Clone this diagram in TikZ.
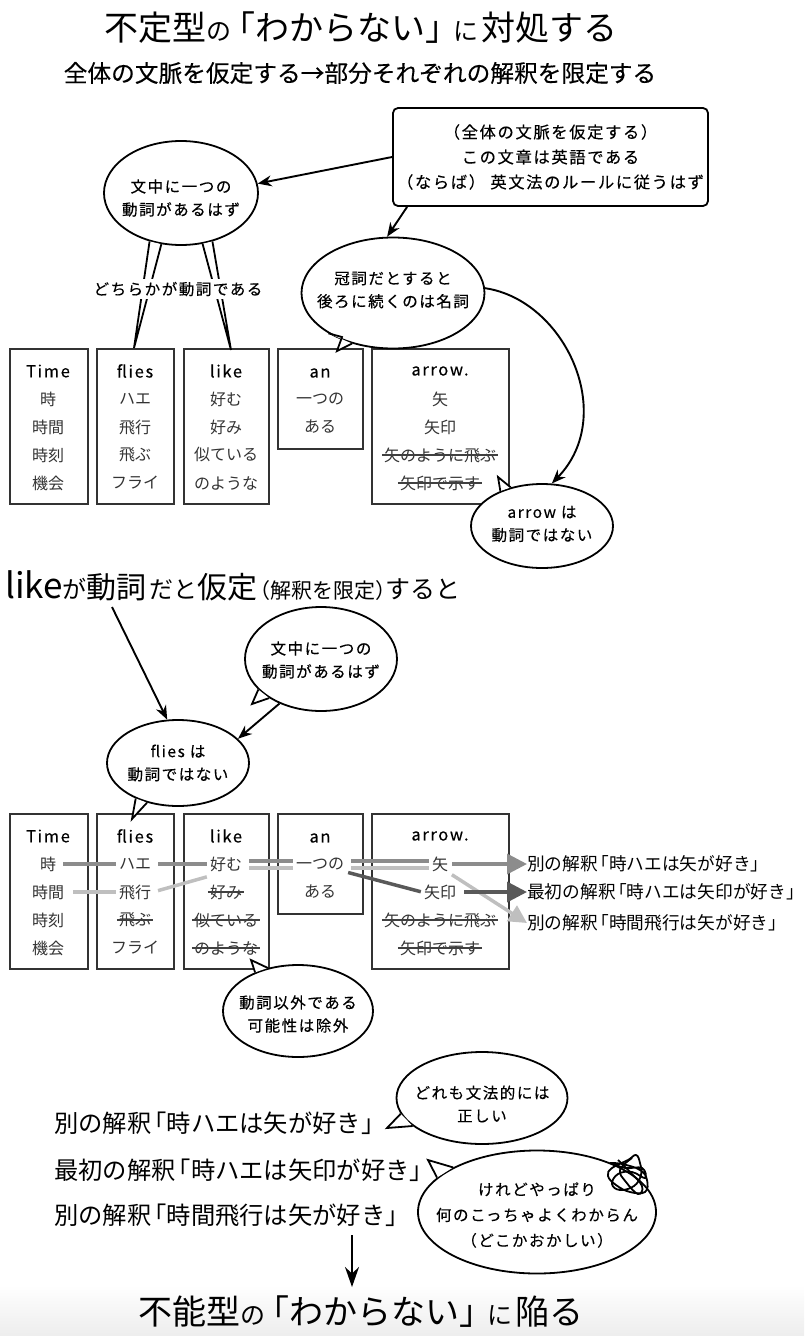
\documentclass[tikz,border=0pt]{standalone}
\usepackage{fontspec}
\setmainfont{Noto Sans CJK JP}
\newfontfamily\cjkb[LetterSpace=10,FakeBold=0.3]{Noto Sans CJK JP}
\newfontfamily\cjkm[FakeBold=0.3]{Noto Sans CJK JP}
\usetikzlibrary{positioning}
\usetikzlibrary{arrows.meta}
\usetikzlibrary{shapes.geometric}
\newcommand{\sz}[1]{\fontsize{#1}{#1}\selectfont}
% brackets without their blank half
\newcommand{\lb}{\kern-.37em「}
\newcommand{\rb}{」\kern-.37em}
% tail of a speech bubble: node, start angle, tip path, end angle
\newcommand{\bubtail}[4]{
	\fill[white] (#1.#2) -- #3 -- (#1.#4) -- cycle;
	\draw[tail line] (#1.#2) -- #3 -- (#1.#4);
}
% the five word boxes, used twice
\newcommand{\wordtable}[2]{
	\begin{scope}[shift={(0,#2)},name prefix=#1]
	\node[word box,minimum width=78pt,minimum height=155pt] at (49,77.5) {};
	\node[word box,minimum width=77pt,minimum height=155pt] at (135.5,77.5) {};
	\node[word box,minimum width=85pt,minimum height=155pt] at (226.5,77.5) {};
	\node[word box,minimum width=85pt,minimum height=100pt] at (320.5,50) {};
	\node[word box,minimum width=137pt,minimum height=155pt] at (440.5,77.5) {};
	\node[head] (t0) at (48,22) {Time};
	\node[word] (t1) [below of=t0] {時};
	\node[word] (t2) [below of=t1] {時間};
	\node[word] (t3) [below of=t2] {時刻};
	\node[word] (t4) [below of=t3] {機会};
	\node[head] (f0) at (135,22) {flies};
	\node[word] (f1) [below of=f0] {ハエ};
	\node[word] (f2) [below of=f1] {飛行};
	\node[word] (f3) [below of=f2] {飛ぶ};
	\node[word] (f4) [below of=f3] {フライ};
	\node[head] (l0) at (226,22) {like};
	\node[word] (l1) [below of=l0] {好む};
	\node[word] (l2) [below of=l1] {好み};
	\node[word] (l3) [below of=l2] {似ている};
	\node[word] (l4) [below of=l3] {のような};
	\node[head] (n0) at (320,24) {an};
	\node[word] (n1) at (320,50) {一つの};
	\node[word] (n2) [below of=n1] {ある};
	\node[head] (r0) at (440,22) {arrow.};
	\node[word] (r1) [below of=r0] {矢};
	\node[word] (r2) [below of=r1] {矢印};
	\node[word] (r3) [below of=r2] {矢のように飛ぶ};
	\node[word] (r4) [below of=r3] {矢印で示す};
	\draw[strike] (r3.west) -- (r3.east);
	\draw[strike] (r4.west) -- (r4.east);
	\end{scope}
}
\begin{document}
\begin{tikzpicture}[x=1pt,y=-1pt,node distance=28pt,
	word box/.style={rectangle,draw=black!80,line width=1.3pt,inner sep=0pt},
	word/.style={font=\sz{16},text=black!80,inner sep=2pt},
	head/.style={font=\sz{16.5}\cjkb,inner sep=2pt},
	strike/.style={black!75,line width=1.3pt},
	bubble/.style={ellipse,draw,fill=white,line width=1.8pt,inner sep=0pt},
	speech/.style={font=\fontsize{15.5}{23}\selectfont\cjkb,align=center,inner sep=0pt},
	tail line/.style={line width=1.8pt,line join=miter},
	big arrow/.style={line width=1.9pt,-{Stealth[length=14pt,width=11pt]}},
	path one/.style={line width=3.5pt,black!45,shorten <=5pt,shorten >=1pt},
	path two/.style={line width=3.5pt,black!25,shorten <=5pt,shorten >=1pt},
	path three/.style={line width=3.5pt,black!65,shorten <=2pt,shorten >=1pt},
	reading/.style={font=\sz{17.7},anchor=west,inner sep=0pt},
	sentence/.style={font=\sz{24.3},anchor=west,inner sep=0pt}]
	\useasboundingbox (0,0) rectangle (804,1336);
	\shade[top color=white,bottom color=black!7] (0,1285) rectangle (804,1336);

	% titles
	\node (title) at (361,28) {\sz{34}不定型{\sz{25}の}\kern2pt\lb わからない\rb\kern7pt{\sz{25}に}\kern3pt対処する};
	\node[font=\sz{23.7}\cjkm] (subtitle) at (360,73) {全体の文脈を仮定する→部分それぞれの解釈を限定する};

	% upper word boxes
	\wordtable{a-}{349}

	% upper bubbles
	\node[rectangle,rounded corners=5pt,draw,line width=1.8pt,minimum width=315pt,minimum height=98pt,
		font=\fontsize{16.3}{25}\selectfont\cjkb,align=center,inner sep=0pt] (context) at (550.5,157)
		{（全体の文脈を仮定する）\\この文章は英語である\\（ならば） 英文法のルールに従うはず};
	\node[bubble,minimum width=154pt,minimum height=104pt] (verbone) at (181,193) {};
	\bubtail{verbone}{237}{(134,348)}{249}
	\bubtail{verbone}{293}{(231,350)}{303}
	\node[speech] (verbonet) at (181,198) {文中に一つの\\動詞があるはず};
	\node[fill=white,font=\sz{15.5}\cjkb,inner xsep=0pt,inner ysep=3pt] (either) at (178,289) {どちらかが動詞である};
	\node[bubble,minimum width=183pt,minimum height=111pt] (noun) at (393,293) {};
	\bubtail{noun}{212}{(342,337) -- (337,351)}{231}
	\node[speech] (nount) at (393,290) {冠詞だとすると\\後ろに続くのは名詞};
	\node[bubble,minimum width=142pt,minimum height=84pt] (notarrow) at (542,526) {};
	\bubtail{notarrow}{140}{(498,477)}{129}
	\node[speech] (notarrowt) at (542,524) {arrow は\\動詞ではない};
	\draw[big arrow] (context.west) -- (verbone.7);
	\draw[big arrow] ([xshift=15pt]context.south west) -- (noun.96);
	\draw[big arrow] (noun.3) .. controls (565,300) and (618,415) .. (notarrow.77);

	% second part
	\node[anchor=west,inner sep=0pt] (assume) at (5,586) {\sz{35}like{\sz{24}が}\sz{30}動詞{\kern3pt\sz{24}だと}\sz{30}仮定{\sz{21}\kern-.4em（解釈を限定）\kern-.5em}{\sz{25}すると}};
	\coordinate (assumeend) at (112,607);
	\node[bubble,minimum width=152pt,minimum height=104pt] (verbtwo) at (321,659) {};
	\bubtail{verbtwo}{206}{(252,704)}{217}
	\node[speech] (verbtwot) at (321,660) {文中に一つの\\動詞があるはず};
	\node[bubble,minimum width=142pt,minimum height=86pt] (notflies) at (178,763) {};
	\node[speech] (notfliest) at (178,763) {flies は\\動詞ではない};
	\draw[big arrow] (assumeend) -- (notflies.104);
	\draw[big arrow] (verbtwo.227) -- (notflies.22);

	% lower word boxes
	\wordtable{b-}{814}
	\bubtail{notflies}{220}{(132,819)}{232}
	\foreach \gone in {f3,l2,l3,l4} \draw[strike] (b-\gone.west) -- (b-\gone.east);

	% readings
	\node[reading] (altone) at (527,864) {別の解釈\lb 時ハエは矢が好き\rb};
	\node[reading] (first) at (527,892) {最初の解釈\lb 時ハエは矢印が好き\rb};
	\node[reading] (alttwo) at (527,923) {別の解釈\lb 時間飛行は矢が好き\rb};

	\draw[path two] (b-t2) ++(20,0) -- (b-f2.west);
	\draw[path two] (b-f2.east) -- ([yshift=-3pt]b-l1.south west);
	\draw[path two] ([yshift=-4pt]b-l1.east) -- ([yshift=-4pt]b-n1.west);
	\draw[path two] ([yshift=-4pt]b-n1.east) -- ([yshift=-4pt]b-r1.west);
	\draw[line width=3.5pt,black!25,shorten <=2pt,-{Triangle[length=18pt,width=18pt]}] (b-r1.south east) -- (alttwo.west);
	\draw[path one] (b-t1.east) -- (b-f1.west);
	\draw[path one] (b-f1.east) -- (b-l1.west);
	\draw[path one] ([yshift=3pt]b-l1.east) -- ([yshift=3pt]b-n1.west);
	\draw[path one] ([yshift=3pt]b-n1.east) -- ([yshift=3pt]b-r1.west);
	\draw[line width=3.5pt,black!45,shorten <=2pt,-{Triangle[length=20pt,width=20pt]}] (b-r1.east) -- (altone.west);
	\draw[path three] ([yshift=-8pt]b-n1.east) -- (b-r2.west);
	\draw[line width=3.5pt,black!65,shorten <=6pt,-{Triangle[length=20pt,width=20pt]}] (b-r2.east) -- (first.west);

	\node[bubble,minimum width=150pt,minimum height=92pt] (except) at (298,1011) {};
	\bubtail{except}{138}{(251,960)}{125}
	\node[speech] (exceptt) at (298,1014) {動詞以外である\\可能性は除外};

	% last part
	\node[sentence] (sentone) at (54,1123) {別の解釈\lb 時ハエは矢が好き\rb};
	\node[sentence] (senttwo) at (54,1170) {最初の解釈\lb 時ハエは矢印が好き\rb};
	\node[sentence] (sentthree) at (54,1215) {別の解釈\lb 時間飛行は矢が好き\rb};
	\node[bubble,minimum width=171pt,minimum height=92pt] (correct) at (482,1098) {};
	\bubtail{correct}{191}{(387,1128)}{202}
	\node[speech] (correctt) at (482,1104) {どれも文法的には\\正しい};
	\node[bubble,minimum width=238pt,minimum height=123pt] (strange) at (537,1212) {};
	\bubtail{strange}{152}{(428,1160)}{161}
	\node[speech,font=\fontsize{15.5}{25.5}\selectfont\cjkb] (stranget) at (537,1215) {けれどやっぱり\\何のこっちゃよくわからん\\（どこかおかしい）};
	% the scribble
	\draw[line width=1.8pt] plot[smooth,tension=.7] coordinates {(610,1163) (622,1164) (640,1170) (647,1180) (645,1192) (630,1192) (616,1185) (608,1176) (612,1168) (628,1160) (636,1155) (640,1163) (641,1175) (634,1186) (620,1190) (612,1184) (618,1174) (632,1172) (645,1178) (642,1168) (625,1168) (612,1163)};
	\draw[line width=1.8pt] plot[smooth,tension=.7] coordinates {(618,1160) (630,1172) (642,1186) (638,1194) (626,1182) (620,1170) (632,1158)};
	\coordinate (fallstart) at (352,1235);
	\coordinate (fallend) at (352,1287);
	\draw[line width=1.9pt,-{Stealth[length=20pt,width=14pt]}] (fallstart) -- (fallend);
	\node (lasttitle) at (361,1312) {\sz{34}不能型{\sz{25}の}\kern2pt\lb わからない\rb\kern7pt{\sz{25}に}\kern3pt陥る};
\end{tikzpicture}
\end{document}
